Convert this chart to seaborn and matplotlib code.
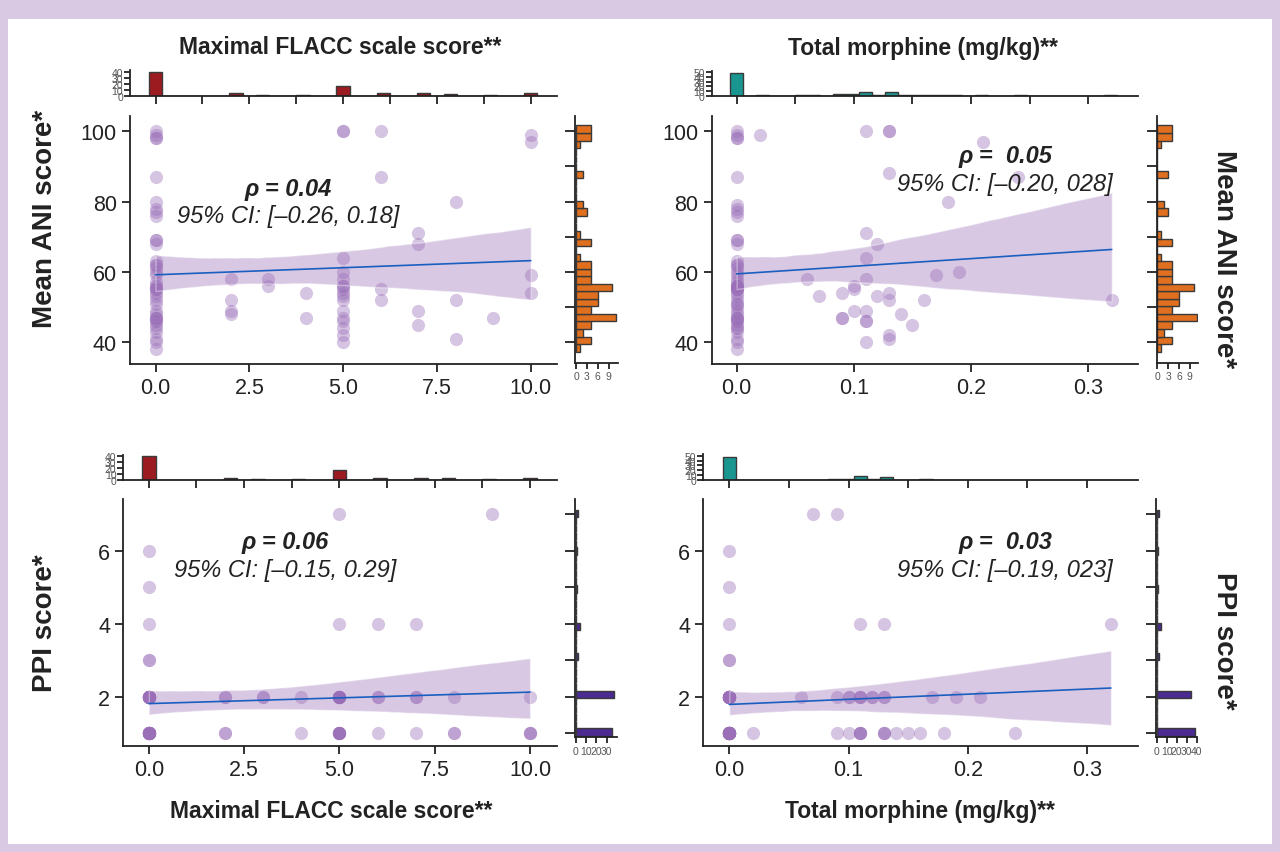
import numpy as np
import matplotlib.pyplot as plt
import matplotlib.patches as patches
from matplotlib.ticker import FormatStrFormatter
import seaborn as sns

# ---- data ----
# top-left: maximal FLACC score vs mean ANI score
flacc_a = [0, 0, 0, 0, 0, 0, 0, 0, 0, 0, 0, 0, 0, 0, 0, 0, 0, 0, 0, 0,
           0, 0, 0, 0, 0, 0, 0, 0, 0, 0, 0, 0, 0, 0, 0, 0, 0, 0, 0, 0, 0,
           2, 2, 2, 2, 3, 3, 4, 4,
           5, 5, 5, 5, 5, 5, 5, 5, 5, 5, 5, 5, 5, 5, 5, 5, 5,
           6, 6, 6, 6, 7, 7, 7, 7, 8, 8, 8, 9, 10, 10, 10, 10]
ani_a = [100, 99, 98, 98, 87, 80, 78, 77, 76, 69, 69, 68, 63, 62, 62, 61, 60, 59, 57, 56,
         56, 55, 55, 55, 54, 53, 52, 51, 49, 48, 47, 47, 47, 46, 46, 45, 44, 43, 41, 40, 38,
         58, 52, 49, 48, 58, 56, 54, 47,
         100, 100, 64, 60, 58, 56, 55, 56, 54, 53, 52, 49, 47, 46, 42, 40, 44,
         100, 87, 55, 52, 71, 68, 49, 45, 80, 52, 41, 47, 99, 97, 59, 54]

# top-right: total morphine vs mean ANI score
morph_b = [0, 0, 0, 0, 0, 0, 0, 0, 0, 0, 0, 0, 0, 0, 0, 0, 0, 0, 0, 0, 0, 0, 0, 0,
           0, 0, 0, 0, 0, 0, 0, 0, 0, 0, 0, 0, 0, 0, 0, 0, 0, 0, 0, 0, 0, 0, 0, 0,
           0.02, 0.06, 0.07, 0.09, 0.09, 0.09, 0.10, 0.10, 0.10,
           0.11, 0.11, 0.11, 0.11, 0.11, 0.11, 0.11, 0.11, 0.12, 0.12,
           0.13, 0.13, 0.13, 0.13, 0.13, 0.13, 0.13,
           0.14, 0.15, 0.16, 0.17, 0.18, 0.19, 0.21, 0.24, 0.32]
ani_b = [100, 99, 98, 98, 87, 79, 78, 77, 76, 69, 69, 68, 63, 62, 62, 61, 60, 59, 58, 57, 56, 56, 56, 56,
         55, 55, 55, 55, 54, 53, 52, 51, 51, 50, 49, 48, 47, 47, 47, 46, 46, 45, 44, 44, 43, 41, 40, 38,
         99, 58, 53, 54, 47, 47, 56, 55, 49,
         100, 71, 64, 58, 49, 46, 46, 40, 68, 53,
         100, 100, 88, 54, 52, 42, 41,
         48, 45, 52, 59, 80, 60, 97, 87, 52]

# bottom-left: maximal FLACC score vs PPI score
flacc_c = flacc_a
ppi_c = [6, 5, 4, 3, 3, 2, 2, 2, 2, 2, 2, 2, 2, 2, 2, 2, 2, 2, 2, 2,
         2, 2, 2, 1, 1, 1, 1, 1, 1, 1, 1, 1, 1, 1, 1, 1, 1, 1, 1, 1, 1,
         2, 2, 1, 1, 2, 2, 2, 1,
         7, 4, 2, 2, 2, 2, 2, 2, 2, 2, 1, 1, 1, 1, 1, 1, 1,
         4, 2, 2, 1, 4, 2, 2, 1, 2, 1, 1, 7, 2, 1, 1, 1]

# bottom-right: total morphine vs PPI score
morph_d = [0, 0, 0, 0, 0, 0, 0, 0, 0, 0, 0, 0, 0, 0, 0, 0, 0, 0, 0, 0, 0, 0, 0, 0,
           0, 0, 0, 0, 0, 0, 0, 0, 0, 0, 0, 0, 0, 0, 0, 0, 0, 0, 0, 0, 0, 0, 0, 0,
           0.02, 0.06, 0.07, 0.09, 0.09, 0.09, 0.10, 0.10, 0.10,
           0.11, 0.11, 0.11, 0.11, 0.11, 0.11, 0.11, 0.11, 0.12, 0.12,
           0.13, 0.13, 0.13, 0.13, 0.13, 0.13,
           0.14, 0.15, 0.16, 0.17, 0.18, 0.19, 0.21, 0.24, 0.32]
ppi_d = [6, 5, 4, 3, 3, 2, 2, 2, 2, 2, 2, 2, 2, 2, 2, 2, 2, 2, 2, 2, 2, 2, 2, 2,
         2, 1, 1, 1, 1, 1, 1, 1, 1, 1, 1, 1, 1, 1, 1, 1, 1, 1, 1, 1, 1, 1, 1, 1,
         1, 2, 7, 7, 2, 1, 2, 2, 1,
         4, 2, 2, 2, 1, 1, 1, 1, 2, 2,
         4, 2, 2, 1, 1, 1,
         1, 1, 1, 2, 1, 2, 2, 1, 4]

rho_text = ['ρ = 0.04', 'ρ =  0.05', 'ρ = 0.06', 'ρ =  0.03']
ci_text = ['95% CI: [–0.26, 0.18]', '95% CI: [–0.20, 028]',
           '95% CI: [–0.15, 0.29]', '95% CI: [–0.19, 023]']

flacc_label = 'Maximal FLACC scale score**'
morph_label = 'Total morphine (mg/kg)**'
ani_label = 'Mean ANI score*'
ppi_label = 'PPI score*'

# histogram bins
ani_bins = np.linspace(37.33, 101.62, 31)
ppi_bins = np.linspace(0.93, 7.13, 31)
flacc_bins = np.linspace(-0.18, 10.18, 30)
morph_bins = np.linspace(-0.0055, 0.3245, 31)

purple = '#9a6fb8'
blue = '#1a5fc0'
dark = '#222222'

sns.set_style('ticks')
plt.rcParams['font.family'] = ['Liberation Sans', 'DejaVu Sans']

W, H = 1280, 853
fig = plt.figure(figsize=(W / 100, H / 100), dpi=100)
fig.patch.set_facecolor('#d9c9e3')
fig.add_artist(patches.Rectangle((8 / W, 1 - 845 / H), 1264 / W, 825 / H,
                                 transform=fig.transFigure, facecolor='white',
                                 edgecolor='none', zorder=-5))


def box(l, t, r, b):
    return fig.add_axes([l / W, 1 - b / H, (r - l) / W, (b - t) / H])


def style(ax, size, length):
    sns.despine(ax=ax)
    for s in ['left', 'bottom']:
        ax.spines[s].set_linewidth(1.3)
        ax.spines[s].set_color(dark)
    ax.tick_params(length=length, width=1.3, color=dark, labelsize=size,
                   labelcolor=dark)
    ax.set_xlabel('')
    ax.set_ylabel('')
    ax.set_facecolor('none')


def joint(x, y, main, top, right, xlim, ylim, ylim_r, xlim_r, xticks, yticks,
          top_ticks, top_ylim, top_yticks, right_ticks, right_xticks,
          xbins, ybins, top_color, right_color):
    ax = box(*main)
    sns.regplot(x=x, y=y, ax=ax, color=purple, seed=3,
                scatter_kws=dict(s=90, alpha=0.4, linewidths=0),
                line_kws=dict(color=blue, lw=1.2))
    band = ax.collections[-1]
    band.set_facecolor(purple)
    band.set_alpha(0.38)
    ax.set_xlim(xlim)
    ax.set_ylim(ylim)
    ax.set_xticks(xticks)
    ax.set_yticks(yticks)
    ax.xaxis.set_major_formatter(FormatStrFormatter('%.1f'))
    style(ax, 15.5, 6)

    axt = box(*top)
    sns.histplot(x=x, bins=xbins, ax=axt, color=top_color, edgecolor='#3a3a3a',
                 linewidth=1, alpha=1)
    axt.set_xlim(xlim)
    axt.set_ylim(top_ylim)
    axt.set_xticks(top_ticks)
    axt.set_yticks(top_yticks)
    axt.tick_params(axis='x', labelbottom=False)
    style(axt, 7.5, 4)
    axt.tick_params(axis='y', labelcolor='#555555', pad=1)
    axt.tick_params(axis='x', length=6)

    axr = box(*right)
    sns.histplot(y=y, bins=ybins, ax=axr, color=right_color, edgecolor='#3a3a3a',
                 linewidth=1, alpha=1)
    axr.set_ylim(ylim_r)
    axr.set_xlim(xlim_r)
    axr.set_yticks(right_ticks)
    axr.set_xticks(right_xticks)
    axr.tick_params(axis='y', labelleft=False)
    style(axr, 7.5, 4)
    axr.tick_params(axis='x', labelcolor='#555555', pad=2)
    axr.tick_params(axis='y', length=7)
    return ax


flacc_ticks = [0, 2.5, 5, 7.5, 10]
morph_ticks = [0, 0.1, 0.2, 0.3]
flacc_top = np.arange(0, 10.01, 1.25)
morph_top = np.arange(0, 0.301, 0.05)

joint(flacc_a, ani_a, (130, 116.7, 557, 365), (130, 71, 557, 96.7), (575, 116.7, 617.5, 364),
      (-0.68, 10.7), (33.8, 104.4), (34.1, 104.4), (-0.28, 11.42),
      flacc_ticks, [40, 60, 80, 100], flacc_top, (0, 44), [0, 10, 20, 30, 40],
      np.arange(40, 101, 10), [0, 3, 6, 9], flacc_bins, ani_bins, '#9b1b20', '#e0701f')
joint(morph_b, ani_b, (711.7, 116.7, 1138, 365), (711.7, 71.7, 1138, 96.7), (1156.5, 116.7, 1198.3, 364),
      (-0.0213, 0.3424), (33.8, 104.4), (34.1, 104.4), (-0.17, 11.3),
      morph_ticks, [40, 60, 80, 100], morph_top, (0, 53.5), [0, 10, 20, 30, 40, 50],
      np.arange(40, 101, 10), [0, 3, 6, 9], morph_bins, ani_bins, '#1a9690', '#e0701f')
joint(flacc_c, ppi_c, (123.3, 500, 556.7, 746.7), (123.3, 456, 556.7, 481), (575, 500, 616.7, 738.3),
      (-0.67, 10.7), (0.66, 7.42), (0.89, 7.42), (-0.7, 39.8),
      flacc_ticks, [2, 4, 6], flacc_top, (0, 42), [0, 10, 20, 30, 40],
      np.arange(1, 8), [0, 10, 20, 30], flacc_bins, ppi_bins, '#9b1b20', '#4b2a91')
joint(morph_d, ppi_d, (703.3, 500, 1138.3, 746.7), (703.3, 455, 1138.3, 481), (1156, 500, 1197.3, 738.3),
      (-0.0218, 0.343), (0.66, 7.42), (0.89, 7.42), (-0.7, 40.6),
      morph_ticks, [2, 4, 6], morph_top, (0, 53.5), [0, 10, 20, 30, 40, 50],
      np.arange(1, 8), [0, 10, 20, 30, 40], morph_bins, ppi_bins, '#1a9690', '#4b2a91')


def ftext(px, py, s, **kw):
    fig.text(px / W, 1 - py / H, s, ha='center', va='center', color=dark, **kw)


# correlation annotations
for (px, py), r, c in zip([(288, 190), (1005, 157), (285, 543), (1005, 543)], rho_text, ci_text):
    ftext(px, py, r, fontsize=17, fontweight='bold', fontstyle='italic')
    ftext(px, py + 27, c, fontsize=17, fontstyle='italic')

# titles and axis labels
ftext(340, 48, flacc_label, fontsize=16.5, fontweight='bold')
ftext(923, 48, morph_label, fontsize=16.5, fontweight='bold')
ftext(331, 812, flacc_label, fontsize=16.5, fontweight='bold')
ftext(920, 812, morph_label, fontsize=16.5, fontweight='bold')
ftext(45, 219, ani_label, fontsize=20, fontweight='bold', rotation=90)
ftext(45, 623, ppi_label, fontsize=20, fontweight='bold', rotation=90)
ftext(1224, 259, ani_label, fontsize=20, fontweight='bold', rotation=270)
ftext(1224, 641, ppi_label, fontsize=20, fontweight='bold', rotation=270)

fig.savefig('out.png', dpi=100, facecolor=fig.get_facecolor())
